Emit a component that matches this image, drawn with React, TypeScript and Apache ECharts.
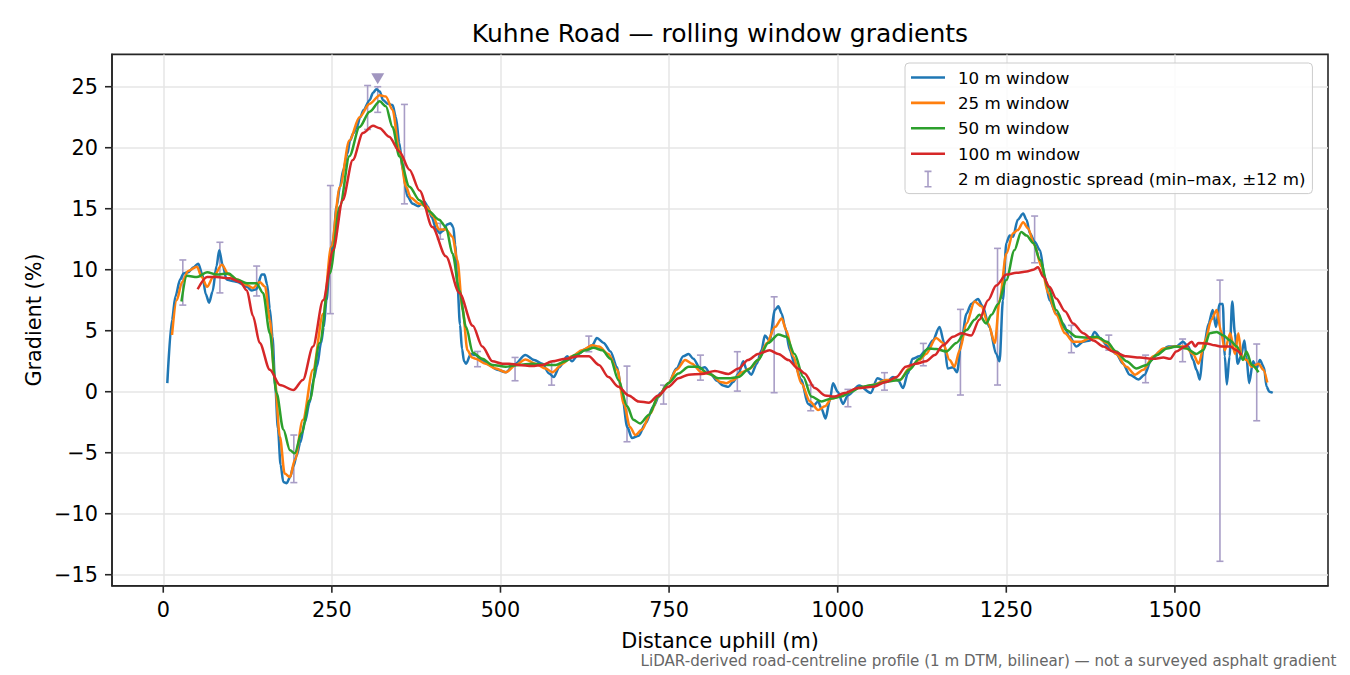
import React, { useEffect, useRef } from 'react';
import * as echarts from 'echarts';

// distance (m), gradient (%)
const xTicks = [0, 250, 500, 750, 1000, 1250, 1500];
const yTicks = [-15, -10, -5, 0, 5, 10, 15, 20, 25];
const X_MIN = -76;
const X_MAX = 1727;
const Y_MIN = -15.9;
const Y_MAX = 27.65;

const window10: [number, number][] = [
    [6, 0.7], [13, 5.9], [18, 7.8], [25, 9.2], [30, 9.7], [37, 9.8], [45, 10.2], [52, 10.5],
    [58, 9.6], [63, 8.0], [68, 7.3], [73, 8.2], [79, 10.3], [83, 11.6], [88, 10.4], [94, 9.2],
    [101, 9.1], [110, 9.0], [118, 8.8], [124, 8.6], [131, 8.3], [138, 8.4], [146, 9.6], [150, 9.6],
    [154, 8.8], [158, 6.8], [162, 4.5], [166, 0.5], [170, -3.0], [174, -6.0], [178, -7.4], [183, -7.5],
    [188, -7.0], [193, -6.1], [198, -5.2], [203, -4.2], [210, -2.5], [217, -0.9], [223, 1.0], [228, 2.1],
    [234, 4.0], [238, 5.3], [242, 7.5], [247, 10.3], [252, 12.5], [257, 15.2], [262, 16.8], [267, 18.2],
    [273, 19.5], [277, 20.6], [282, 21.2], [287, 21.7], [292, 22.5], [297, 23.1], [306, 23.9], [311, 24.5],
    [316, 24.8], [321, 24.6], [326, 23.9], [333, 23.6], [340, 23.5], [345, 22.5], [350, 20.4], [355, 18.2],
    [362, 16.0], [370, 15.4], [378, 15.2], [387, 15.6], [392, 15.2], [398, 14.3], [405, 13.3], [410, 13.0],
    [415, 13.2], [421, 13.7], [426, 13.8], [430, 13.5], [433, 12.0], [436, 9.0], [440, 5.5], [443, 3.5],
    [446, 2.5], [449, 2.3], [456, 3.1], [463, 3.0], [473, 2.6], [483, 2.2], [495, 1.8], [508, 1.6],
    [520, 2.2], [537, 3.0], [550, 2.6], [562, 2.3], [572, 1.5], [579, 1.2], [587, 2.0], [599, 2.9],
    [606, 2.5], [616, 3.1], [626, 3.5], [636, 3.8], [643, 4.4], [653, 4.0], [663, 3.3], [673, 2.0],
    [680, -0.1], [688, -2.9], [695, -3.8], [705, -3.6], [715, -2.6], [727, -1.2], [737, -0.1], [749, 0.7],
    [761, 1.9], [771, 2.9], [779, 3.1], [786, 2.7], [796, 1.9], [803, 2.0], [811, 1.5], [821, 0.9],
    [830, 0.5], [838, 0.4], [845, 0.8], [853, 1.5], [860, 2.5], [865, 1.8], [872, 1.4], [880, 2.3],
    [887, 3.4], [892, 4.6], [899, 4.2], [907, 6.7], [912, 7.0], [917, 6.4], [922, 5.3], [929, 3.4],
    [936, 2.3], [946, 1.0], [956, -1.0], [963, -1.2], [971, -0.8], [976, -1.4], [982, -2.2], [988, -0.8],
    [993, 0.7], [1000, 0.0], [1008, -1.0], [1015, -0.3], [1032, 0.5], [1049, -0.1], [1059, 1.1], [1072, 0.8],
    [1082, 1.2], [1090, 0.9], [1097, 0.3], [1104, 1.5], [1111, 2.7], [1121, 2.9], [1131, 3.4], [1141, 4.2],
    [1151, 5.3], [1158, 4.0], [1163, 1.9], [1171, 2.0], [1177, 1.6], [1183, 4.0], [1191, 6.4], [1198, 7.2],
    [1208, 7.6], [1215, 7.0], [1225, 5.3], [1235, 3.1], [1240, 2.5], [1245, 7.5], [1250, 12.2], [1255, 12.8],
    [1260, 12.7], [1267, 14.1], [1275, 14.6], [1280, 14.1], [1285, 13.0], [1292, 12.3], [1300, 11.6], [1307, 9.4],
    [1314, 7.5], [1324, 6.4], [1334, 5.6], [1344, 4.5], [1354, 3.7], [1364, 4.1], [1374, 4.2], [1381, 4.9],
    [1389, 4.4], [1401, 3.7], [1413, 3.1], [1423, 2.3], [1433, 1.4], [1446, 1.0], [1455, 1.4], [1465, 2.6],
    [1478, 3.3], [1490, 3.7], [1502, 3.7], [1512, 4.1], [1520, 3.7], [1527, 2.6], [1532, 1.8], [1537, 1.0],
    [1542, 3.4], [1550, 5.6], [1556, 6.7], [1561, 5.3], [1566, 7.2], [1571, 7.2], [1574, 2.9], [1577, 0.6],
    [1581, 2.9], [1585, 7.4], [1589, 4.8], [1593, 2.3], [1598, 2.9], [1603, 4.2], [1606, 2.9], [1610, 0.7],
    [1616, 2.5], [1621, 1.9], [1626, 2.6], [1632, 2.0], [1636, 0.4], [1640, 0.0], [1645, -0.1],
];

const window25: [number, number][] = [
    [13, 4.65], [20, 7.5], [28, 9.0], [37, 9.9], [50, 10.25], [57, 9.4], [65, 8.6], [74, 9.4],
    [87, 10.4], [97, 9.6], [109, 9.2], [124, 8.75], [133, 8.5], [143, 9.0], [151, 8.6], [158, 5.9],
    [165, 1.2], [173, -3.7], [180, -6.7], [188, -7.0], [195, -5.6], [207, -2.3], [222, 1.8], [237, 6.4],
    [249, 11.9], [262, 16.8], [276, 20.6], [291, 22.5], [306, 23.6], [321, 24.3], [330, 24.2], [340, 23.1],
    [350, 19.8], [360, 16.8], [367, 15.9], [380, 15.4], [390, 15.2], [400, 14.4], [409, 13.3], [419, 13.3],
    [429, 12.7], [436, 10.8], [444, 6.7], [451, 3.4], [458, 2.8], [463, 2.7], [478, 2.3], [493, 1.9],
    [508, 1.6], [523, 2.2], [537, 2.65], [552, 2.3], [567, 1.9], [577, 1.6], [592, 2.3], [606, 2.9],
    [621, 3.4], [636, 3.8], [646, 3.7], [660, 3.1], [673, 1.8], [683, -1.0], [692, -2.9], [700, -3.55],
    [710, -3.1], [722, -1.8], [734, -0.4], [749, 0.7], [761, 1.8], [774, 2.6], [784, 2.3], [798, 1.6],
    [813, 1.4], [826, 0.8], [835, 0.7], [845, 0.95], [858, 1.6], [870, 1.9], [882, 2.6], [895, 4.0],
    [907, 5.3], [917, 6.0], [924, 5.0], [934, 2.9], [946, 0.7], [959, -0.8], [971, -1.5], [981, -1.2],
    [991, -0.55], [1003, -0.4], [1015, -0.1], [1030, 0.3], [1052, 0.55], [1072, 0.96], [1092, 0.96], [1106, 1.9],
    [1121, 2.6], [1131, 3.1], [1146, 4.4], [1156, 4.0], [1166, 2.6], [1173, 2.05], [1181, 3.4], [1191, 5.6],
    [1203, 7.4], [1213, 7.0], [1223, 5.6], [1233, 4.0], [1240, 7.5], [1250, 11.3], [1260, 13.0], [1267, 13.25],
    [1275, 13.9], [1282, 13.4], [1292, 12.0], [1302, 10.25], [1312, 8.1], [1324, 6.3], [1337, 4.8], [1349, 4.1],
    [1361, 4.1], [1374, 4.4], [1386, 4.4], [1399, 4.0], [1413, 3.1], [1428, 2.05], [1441, 1.4], [1453, 1.8],
    [1468, 2.9], [1483, 3.55], [1500, 3.7], [1515, 3.7], [1527, 3.1], [1535, 2.3], [1545, 4.2], [1554, 5.9],
    [1562, 6.7], [1568, 5.05], [1574, 3.4], [1582, 4.8], [1589, 3.1], [1594, 4.8], [1599, 2.9], [1606, 2.6],
    [1614, 2.05], [1624, 2.3], [1631, 1.8], [1637, 0.75],
];

const window50: [number, number][] = [
    [27, 7.4], [35, 9.5], [50, 9.4], [65, 9.8], [79, 9.6], [97, 9.7], [109, 9.2], [124, 8.9],
    [138, 8.9], [148, 8.1], [158, 4.8], [168, -0.1], [178, -3.1], [188, -4.8], [195, -5.05], [205, -3.4],
    [217, -0.7], [232, 4.0], [247, 9.7], [262, 15.2], [276, 19.3], [291, 21.7], [306, 22.95], [321, 23.8],
    [330, 23.4], [340, 21.7], [350, 19.3], [365, 16.8], [380, 15.7], [394, 14.8], [409, 14.1], [419, 13.5],
    [429, 11.3], [439, 8.3], [449, 5.3], [459, 3.2], [473, 2.7], [488, 2.2], [508, 2.05], [527, 2.2],
    [547, 2.3], [567, 2.2], [582, 2.2], [596, 2.5], [611, 3.0], [626, 3.4], [638, 3.6], [651, 3.4],
    [663, 2.7], [675, 0.95], [688, -1.2], [697, -2.3], [707, -2.6], [720, -1.9], [734, -0.4], [749, 0.7],
    [764, 1.5], [779, 2.05], [793, 2.05], [808, 1.5], [823, 1.1], [838, 1.1], [853, 1.2], [867, 1.8],
    [882, 2.6], [897, 4.0], [912, 4.7], [924, 4.5], [936, 3.1], [949, 1.2], [961, -0.4], [976, -0.8],
    [991, -0.55], [1005, -0.4], [1020, 0.0], [1035, 0.4], [1052, 0.55], [1072, 0.82], [1092, 0.96], [1106, 1.8],
    [1121, 2.7], [1134, 3.55], [1146, 3.5], [1161, 3.3], [1176, 4.0], [1191, 5.05], [1203, 5.9], [1210, 6.3],
    [1220, 5.6], [1228, 6.3], [1238, 7.2], [1250, 9.15], [1262, 11.6], [1272, 13.1], [1280, 12.8], [1290, 12.2],
    [1300, 10.8], [1312, 8.6], [1324, 6.7], [1339, 5.05], [1354, 4.5], [1369, 4.45], [1384, 4.5], [1399, 4.1],
    [1413, 3.3], [1428, 2.5], [1443, 1.9], [1458, 2.2], [1473, 3.0], [1488, 3.55], [1502, 3.7], [1517, 3.55],
    [1532, 3.1], [1542, 3.4], [1552, 4.8], [1562, 4.9], [1572, 4.6], [1582, 4.2], [1592, 3.7], [1601, 2.6],
    [1606, 3.3], [1614, 2.2], [1624, 1.6],
];

const window100: [number, number][] = [
    [51, 8.4], [65, 9.4], [79, 9.4], [99, 9.3], [114, 9.0], [124, 8.3], [133, 6.2], [143, 4.0],
    [158, 1.8], [173, 0.55], [193, 0.14], [207, 0.96], [222, 3.7], [237, 7.5], [252, 11.6], [266, 15.7],
    [281, 19.0], [296, 21.2], [311, 21.8], [321, 21.6], [335, 20.9], [350, 19.7], [365, 18.2], [380, 16.5],
    [399, 13.5], [419, 11.1], [439, 8.1], [459, 5.4], [473, 3.7], [488, 2.5], [503, 2.3], [513, 2.3],
    [527, 2.2], [547, 2.1], [562, 2.2], [577, 2.5], [597, 2.7], [616, 2.9], [631, 2.9], [646, 2.2],
    [660, 1.2], [675, 0.4], [690, -0.3], [705, -0.8], [720, -0.9], [734, -0.3], [749, 0.4], [764, 1.1],
    [779, 1.4], [798, 1.45], [818, 1.7], [838, 1.45], [853, 1.9], [867, 2.6], [882, 3.1], [899, 3.4],
    [912, 3.1], [927, 2.6], [941, 1.9], [951, 1.5], [966, 0.3], [981, -0.3], [995, -0.4], [1010, -0.1],
    [1030, 0.3], [1052, 0.4], [1072, 0.8], [1087, 1.2], [1101, 2.05], [1116, 2.3], [1131, 2.5], [1144, 3.0],
    [1156, 3.8], [1171, 4.5], [1183, 4.8], [1198, 4.6], [1210, 5.9], [1223, 7.5], [1235, 8.7], [1250, 9.6],
    [1265, 9.75], [1280, 9.85], [1290, 10.0], [1297, 10.2], [1305, 9.4], [1314, 8.6], [1324, 7.65], [1337, 6.6],
    [1349, 5.6], [1364, 4.8], [1379, 4.2], [1394, 3.7], [1408, 3.3], [1428, 2.9], [1448, 2.8], [1468, 2.7],
    [1483, 2.8], [1493, 2.7], [1502, 3.3], [1515, 3.7], [1525, 4.1], [1530, 3.7], [1535, 4.0], [1547, 3.96],
    [1559, 3.8], [1569, 3.7], [1582, 3.7], [1591, 3.4], [1599, 3.0],
];

// 2 m diagnostic spread, every ~55 m
const spreadDist = [29, 84, 138.5, 193.6, 247.8, 303, 318, 357.6, 410.8, 466, 521.6, 575.8, 631, 687.6, 741.8, 796.5,
    851.2, 905.8, 960, 1015.2, 1069.4, 1127, 1182, 1237, 1292, 1346.5, 1402, 1456.5, 1511.4, 1566.8, 1621.3];
const spreadMin = [7.1, 8.1, 7.85, -7.45, 6.4, 21.5, 22.9, 15.4, 12.5, 2.05, 0.9, 0.54, 3.28, -4.1, -1.01, 0.95,
    0.05, -0.08, -1.56, -1.23, 0.13, 2.13, -0.27, 0.55, 10.57, 3.2, 3.41, 0.74, 2.46, -13.9, -2.38];
const spreadMax = [10.8, 12.25, 10.3, -3.55, 16.9, 25.1, 25.0, 23.55, 13.8, 3.3, 2.81, 2.46, 4.56, 2.1, 0.54, 3.0,
    3.28, 7.78, 0.54, 0.19, 1.56, 3.96, 6.75, 11.75, 14.4, 5.44, 4.64, 3.0, 4.32, 9.15, 3.91];

const peakPoint: [number, number] = [318, 25.66];

const lineNames = ['10 m window', '25 m window', '50 m window', '100 m window'];
const lineData = [window10, window25, window50, window100];
const lineColors = ['#1f77b4', '#ff7f0e', '#2ca02c', '#d62728'];
const spreadName = '2 m diagnostic spread (min\u2013max, \u00b112 m)';
const spreadColor = '#a89dc6';
const FONT = 'DejaVu Sans';
const TICK_LEN = 7;
const SPINE = '#262626';
const GRID = { left: 112, top: 54.4, width: 1216, height: 531.3 };

const fmtTick = (v: number) => (v < 0 ? '\u2212' + Math.abs(v) : String(v));

const App: React.FC = () => {
    const chartRef = useRef<HTMLDivElement>(null);

    useEffect(() => {
        const chartDom = chartRef.current!;
        const myChart = echarts.init(chartDom, undefined, { renderer: 'svg' });

        const spreadData = spreadDist.map((d, i) => [d, spreadMin[i], spreadMax[i]]);

        const option: echarts.EChartsOption = {
            animation: false,
            backgroundColor: '#ffffff',
            textStyle: { fontFamily: FONT },
            grid: {
                ...GRID,
                show: true, borderColor: SPINE, borderWidth: 1.6,
                backgroundColor: 'transparent',
            },
            legend: {
                orient: 'vertical',
                left: 905, top: 63,
                padding: [6, 7, 6, 6],
                itemWidth: 34, itemHeight: 17, itemGap: 8.4,
                backgroundColor: 'rgba(255,255,255,0.85)',
                borderColor: '#cccccc', borderWidth: 1, borderRadius: 4,
                itemStyle: { borderWidth: 0 },
                textStyle: { fontSize: 16.7, color: '#000', fontFamily: FONT, padding: [0, 0, 0, 8], lineHeight: 17 },
                data: [
                    ...lineNames.map((n) => ({ name: n, icon: 'path://M0,0H34V2.6H0Z' })),
                    { name: spreadName, icon: 'path://M0,0H7V1.6H0Z M2.7,0H4.3V17H2.7Z M0,15.4H7V17H0Z' },
                ],
            },
            xAxis: {
                type: 'value',
                position: 'bottom',
                min: X_MIN, max: X_MAX,
                axisLine: { show: true, onZero: false, lineStyle: { color: SPINE, width: 1.6 } },
                axisTick: { show: false, customValues: xTicks },
                axisLabel: { customValues: xTicks, fontSize: 20.8, color: '#000', margin: 14, fontFamily: FONT, formatter: fmtTick },
                splitLine: { show: true, lineStyle: { color: '#e6e6e6', width: 1.5 } },
            },
            yAxis: {
                type: 'value',
                position: 'left',
                min: Y_MIN, max: Y_MAX,
                axisLine: { show: true, onZero: false, lineStyle: { color: SPINE, width: 1.6 } },
                axisTick: { show: false, customValues: yTicks },
                axisLabel: { customValues: yTicks, fontSize: 20.8, color: '#000', margin: 14, fontFamily: FONT, formatter: fmtTick },
                splitLine: { show: true, lineStyle: { color: '#e6e6e6', width: 1.5 } },
            },
            series: [
                {
                    name: spreadName,
                    type: 'custom',
                    z: 1,
                    itemStyle: { color: spreadColor },
                    encode: { x: 0, y: [1, 2] },
                    data: spreadData,
                    renderItem: (params: any, api: any) => {
                        const x = api.value(0);
                        const lo = api.coord([x, api.value(1)]);
                        const hi = api.coord([x, api.value(2)]);
                        const cap = 3.5;
                        const style = { stroke: spreadColor, lineWidth: 1.6 };
                        return {
                            type: 'group',
                            children: [
                                { type: 'line', shape: { x1: lo[0], y1: lo[1], x2: hi[0], y2: hi[1] }, style },
                                { type: 'line', shape: { x1: lo[0] - cap, y1: lo[1], x2: lo[0] + cap, y2: lo[1] }, style },
                                { type: 'line', shape: { x1: hi[0] - cap, y1: hi[1], x2: hi[0] + cap, y2: hi[1] }, style },
                            ],
                        };
                    },
                } as any,
                ...lineNames.map((n, i) => ({
                    name: n,
                    type: 'line' as const,
                    z: 2 + i,
                    data: lineData[i],
                    showSymbol: false,
                    symbol: 'none',
                    smooth: 0.3,
                    smoothMonotone: 'x' as const,
                    color: lineColors[i],
                    lineStyle: { color: lineColors[i], width: 2.5 },
                    emphasis: { disabled: true },
                })),
                {
                    name: 'peak',
                    type: 'scatter',
                    z: 10,
                    data: [peakPoint],
                    symbol: 'triangle',
                    symbolRotate: 180,
                    symbolSize: [13, 11],
                    itemStyle: { color: '#8a7cb0' },
                    silent: true,
                },
            ],
        };

        myChart.setOption(option);

        // outward tick marks at the axis values (pixel position from the grid's scale)
        const toPx = (v: number, w: number) => {
            const p = myChart.convertToPixel({ gridIndex: 0 }, w === 0 ? [v, Y_MIN] : [X_MIN, v]) as number[] | undefined;
            if (p && isFinite(p[0]) && isFinite(p[1])) return p;
            return w === 0
                ? [GRID.left + ((v - X_MIN) / (X_MAX - X_MIN)) * GRID.width, GRID.top + GRID.height]
                : [GRID.left, GRID.top + GRID.height - ((v - Y_MIN) / (Y_MAX - Y_MIN)) * GRID.height];
        };
        const tickStyle = { stroke: SPINE, lineWidth: 1.6 };
        const tickEls: any[] = [
            ...xTicks.map((v) => {
                const p = toPx(v, 0);
                return { type: 'line', z: 100, silent: true, shape: { x1: p[0], y1: p[1], x2: p[0], y2: p[1] + TICK_LEN }, style: tickStyle };
            }),
            ...yTicks.map((v) => {
                const p = toPx(v, 1);
                return { type: 'line', z: 100, silent: true, shape: { x1: p[0], y1: p[1], x2: p[0] - TICK_LEN, y2: p[1] }, style: tickStyle };
            }),
        ];

        myChart.setOption({
            graphic: [
                {
                    type: 'text', x: 720, y: 33,
                    style: { text: 'Kuhne Road \u2014 rolling window gradients', fontSize: 25, fontFamily: FONT, fill: '#000', align: 'center', verticalAlign: 'middle' },
                },
                {
                    type: 'text', x: 720, y: 641,
                    style: { text: 'Distance uphill (m)', fontSize: 20.8, fontFamily: FONT, fill: '#000', align: 'center', verticalAlign: 'middle' },
                },
                {
                    type: 'text', x: 34, y: 320, rotation: Math.PI / 2,
                    style: { text: 'Gradient (%)', fontSize: 20.8, fontFamily: FONT, fill: '#000', align: 'center', verticalAlign: 'middle' },
                },
                {
                    type: 'text', x: 1336.5, y: 661,
                    style: { text: 'LiDAR-derived road-centreline profile (1 m DTM, bilinear) \u2014 not a surveyed asphalt gradient', fontSize: 15.1, fontFamily: FONT, fill: '#666666', align: 'right', verticalAlign: 'middle' },
                },
                ...tickEls,
            ],
        } as any);

        return () => {
            myChart.dispose();
        };
    }, []);

    return <div ref={chartRef} style={{ position: 'fixed', left: 0, top: 0, width: 1350, height: 675 }} />;
};

export default App;
